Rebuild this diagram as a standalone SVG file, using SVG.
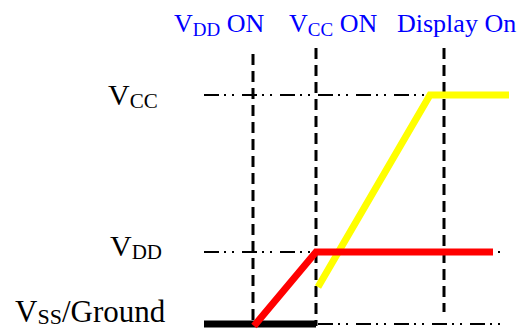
<svg xmlns="http://www.w3.org/2000/svg" width="527" height="329" viewBox="0 0 527 329">
<style>
text{font-family:"Liberation Serif","Times New Roman",serif;font-size:26px;fill:#000}
.blue{fill:#0000ff}
.sub{font-size:19px}
.big{font-size:30px}
.bsub{font-size:21px}
.vss{font-size:31px}
.vsub{font-size:22px}
.vdash{stroke:#000;stroke-width:3;stroke-dasharray:11 6;fill:none}
.dd{stroke:#000;stroke-width:2;stroke-dasharray:15 5 2 6 2 8;fill:none}
.sig{fill:none;stroke-width:7;stroke-linecap:butt;stroke-linejoin:miter}
</style>
<rect width="527" height="329" fill="#fff"/>
<g id="labels">
<g id="lbl-vdd-on"><text class="blue" x="174" y="32">V<tspan class="sub" dy="4">DD</tspan><tspan dy="-4"> ON</tspan></text></g>
<g id="lbl-vcc-on"><text class="blue" x="289" y="32">V<tspan class="sub" dy="4">CC</tspan><tspan dy="-4"> ON</tspan></text></g>
<g id="lbl-display-on"><text class="blue" x="397" y="32">Display On</text></g>
<g id="lbl-vcc"><text class="big" x="108" y="105">V<tspan class="bsub" dy="3">CC</tspan></text></g>
<g id="lbl-vdd"><text class="big" x="110" y="256">V<tspan class="bsub" dy="3">DD</tspan></text></g>
<g id="lbl-vss"><text class="vss" x="15" y="322">V<tspan class="vsub" dy="2">SS</tspan><tspan dy="-2">/Ground</tspan></text></g>
</g>
<g id="connectors">
<line class="vdash" x1="253" y1="54" x2="253" y2="322"/>
<line class="vdash" x1="316" y1="48" x2="316" y2="326"/>
<line class="vdash" x1="444" y1="48" x2="444" y2="312"/>
<line class="dd" x1="204" y1="95" x2="500" y2="95"/>
<line class="dd" x1="204" y1="252" x2="502" y2="252"/>
<line class="dd" x1="318" y1="324" x2="502" y2="324"/>
</g>
<g id="signals">
<g id="ground"><line class="sig" stroke="#000" x1="204" y1="324" x2="316" y2="324"/></g>
<g id="vcc"><polyline class="sig" stroke="#ffff00" points="318,287 430,95 509,95"/></g>
<g id="vdd"><polyline class="sig" stroke="#ff0000" points="254,326 316,252 493,252"/></g>
</g>
</svg>
